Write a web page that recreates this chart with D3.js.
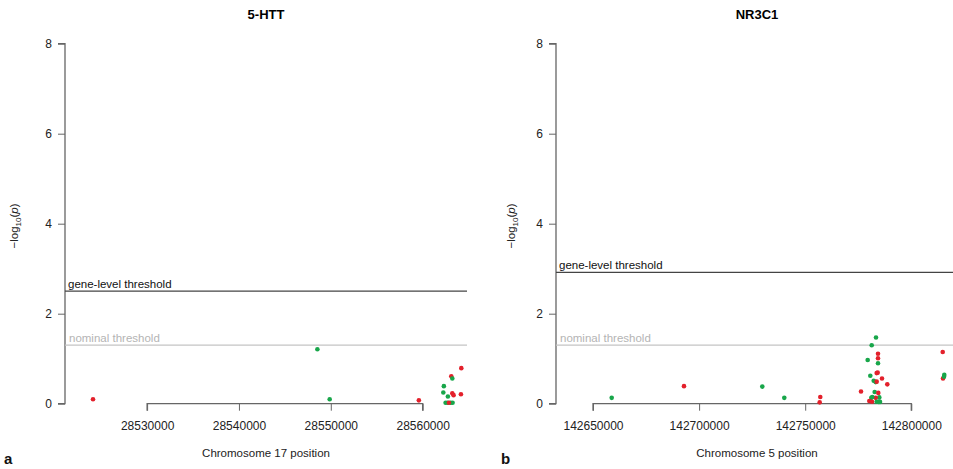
<!DOCTYPE html>
<html>
<head>
<meta charset="utf-8">
<script src="https://cdn.jsdelivr.net/npm/d3@7"></script>
<style>
  body { margin: 0; background: #fff; }
  svg { font-family: "Liberation Sans", Arial, sans-serif; }
</style>
</head>
<body>
<svg width="953" height="469"></svg>
<script>
// ---- data ----
const yTicks = [0, 2, 4, 6, 8];

// 5-HTT, chromosome 17
const htt_titles = { gene: "5-HTT", chrom: "Chromosome 17 position", letter: "a" };
const htt_xTicks = [28530000, 28540000, 28550000, 28560000];
const htt_domain = [28521060, 28564830];
const htt_geneThreshold = 2.5;
const htt_pos = [28524110, 28548540, 28549880, 28559590, 28562310, 28562250, 28562750,
  28563120, 28563230, 28563230, 28563370, 28564210, 28564170,
  28562500, 28562720, 28563040, 28563260, 28562860];
const htt_logp = [0.10, 1.21, 0.10, 0.075, 0.39, 0.25, 0.16,
  0.61, 0.56, 0.23, 0.19, 0.79, 0.21,
  0.02, 0.02, 0.02, 0.02, 0.02];
const htt_group = ["r", "g", "g", "r", "g", "g", "g",
  "r", "g", "r", "r", "r", "r",
  "g", "g", "g", "g", "r"];

// NR3C1, chromosome 5
const nr_titles = { gene: "NR3C1", chrom: "Chromosome 5 position", letter: "b" };
const nr_xTicks = [142650000, 142700000, 142750000, 142800000];
const nr_domain = [142632560, 142822010];
const nr_geneThreshold = 2.92;
const nr_pos = [142658810, 142692880, 142729780, 142740150, 142757110, 142756830, 142776300,
  142783360, 142781340, 142784310, 142784310, 142779450, 142784310, 142783690, 142784160,
  142780680, 142786190, 142782280, 142783220, 142783690, 142788690, 142782750, 142784450,
  142784920, 142783220, 142781620, 142781150, 142780210, 142781480, 142783690, 142784640,
  142785250, 142814800, 142815550, 142814940, 142815410];
const nr_logp = [0.13, 0.39, 0.38, 0.13, 0.15, 0.03, 0.27,
  1.47, 1.30, 1.11, 1.01, 0.97, 0.90, 0.68, 0.69,
  0.62, 0.56, 0.51, 0.48, 0.49, 0.43, 0.26, 0.24,
  0.14, 0.13, 0.15, 0.13, 0.06, 0.045, 0.045, 0.04,
  0.04, 1.15, 0.64, 0.56, 0.60];
const nr_group = ["g", "r", "g", "g", "r", "r", "r",
  "g", "g", "r", "r", "g", "g", "r", "r",
  "g", "r", "g", "g", "r", "r", "g", "r",
  "g", "r", "g", "g", "r", "r", "g", "g",
  "g", "r", "g", "r", "g"];

const nominalThreshold = 1.30103;
const colors = { r: "#e3202b", g: "#18a64a" };

const svg = d3.select("svg");

function panel(offsetX, left, right, t, xTicks, domain, geneThr, pos, logp, group) {
  const g = svg.append("g");
  const x = d3.scaleLinear().domain(domain).range([left, right]);
  const y = d3.scaleLinear().domain([0, 8]).range([403.7, 43.7]);

  // title
  g.append("text").attr("x", left + 201).attr("y", 19)
    .attr("text-anchor", "middle").attr("font-weight", "bold").attr("font-size", 13)
    .text(t.gene);

  // y axis
  const ya = g.append("g").attr("transform", `translate(${left},0)`)
    .call(d3.axisLeft(y).tickValues(yTicks).tickSize(7).tickPadding(6).tickFormat(d3.format("d")));
  ya.select(".domain").attr("stroke", "#666").attr("stroke-width", 1.3).attr("d", `M-7,${y(8)}H0V${y(0)}H-7`);
  ya.selectAll(".tick line").attr("stroke", "#666");
  ya.selectAll(".tick text").attr("font-size", 12).attr("fill", "#222")
    .attr("font-family", "Liberation Sans, Arial, sans-serif");

  // y label
  const yl = g.append("text").attr("transform", `translate(${offsetX + 18},226) rotate(-90)`)
    .attr("text-anchor", "middle").attr("font-size", 11.5).attr("fill", "#222");
  yl.append("tspan").text("\u2212log");
  yl.append("tspan").attr("font-size", 8).attr("dy", 3).text("10");
  yl.append("tspan").attr("dy", -3).text("(");
  yl.append("tspan").attr("font-style", "italic").text("p");
  yl.append("tspan").text(")");

  // x axis
  const xa = g.append("g").attr("transform", `translate(0,${y(0)})`)
    .call(d3.axisBottom(x).tickValues(xTicks).tickSize(7).tickPadding(11).tickFormat(d3.format("d")));
  xa.select(".domain").attr("stroke", "#666").attr("stroke-width", 1.3)
    .attr("d", `M${x(xTicks[0])},7V0H${x(xTicks[xTicks.length - 1])}V7`);
  xa.selectAll(".tick line").attr("stroke", "#666");
  xa.selectAll(".tick text").attr("font-size", 12).attr("fill", "#222")
    .attr("font-family", "Liberation Sans, Arial, sans-serif");

  g.append("text").attr("x", left + 201).attr("y", 457)
    .attr("text-anchor", "middle").attr("font-size", 11.5).attr("fill", "#222").text(t.chrom);

  // thresholds
  g.append("line").attr("x1", left).attr("x2", right)
    .attr("y1", y(geneThr)).attr("y2", y(geneThr)).attr("stroke", "#444").attr("stroke-width", 1.2);
  g.append("text").attr("x", left + 3).attr("y", y(geneThr) - 3)
    .attr("font-size", 11.5).attr("fill", "#111").text("gene-level threshold");
  g.append("line").attr("x1", left).attr("x2", right)
    .attr("y1", y(nominalThreshold)).attr("y2", y(nominalThreshold)).attr("stroke", "#c4c4c4").attr("stroke-width", 1.2);
  g.append("text").attr("x", left + 4).attr("y", y(nominalThreshold) - 3)
    .attr("font-size", 11.5).attr("fill", "#b4b4b4").text("nominal threshold");

  // points
  g.append("g").selectAll("circle").data(pos).join("circle")
    .attr("cx", d => x(d))
    .attr("cy", (d, i) => y(logp[i]))
    .attr("r", 2.3)
    .attr("fill", (d, i) => colors[group[i]]);

  // panel letter
  g.append("text").attr("x", offsetX + 4).attr("y", 464)
    .attr("font-weight", "bold").attr("font-size", 15).attr("fill", "#111").text(t.letter);
}

panel(0, 65, 467, htt_titles, htt_xTicks, htt_domain, htt_geneThreshold, htt_pos, htt_logp, htt_group);
panel(497, 556, 958, nr_titles, nr_xTicks, nr_domain, nr_geneThreshold, nr_pos, nr_logp, nr_group);
</script>
</body>
</html>
